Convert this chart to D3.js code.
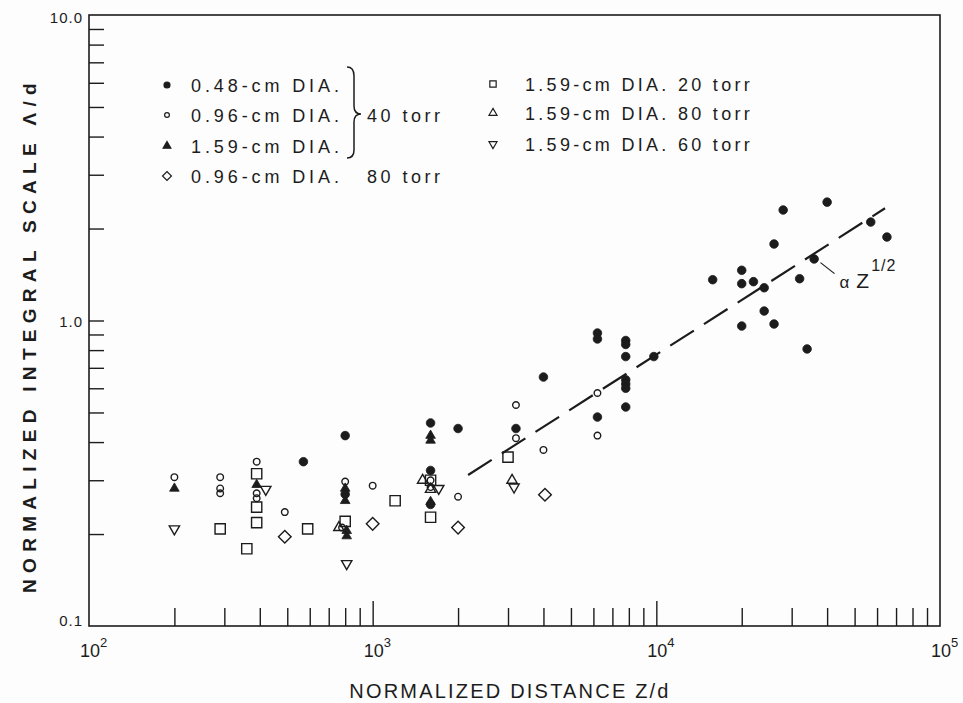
<!DOCTYPE html>
<html>
<head>
<meta charset="utf-8">
<script src="https://cdn.jsdelivr.net/npm/d3@7"></script>
<style>
body { margin: 0; background: #fdfdfd; }
svg { display: block; font-family: "Liberation Sans", Arial, sans-serif; }
</style>
</head>
<body>
<svg id="chart" width="963" height="703"></svg>
<script>
// values, [Z/d, Lambda/d]
var dia048 = [[570,0.345],[800,0.42],[800,0.27],[1600,0.462],[1600,0.323],[1600,0.25],
  [2000,0.443],[3200,0.443],[4000,0.653],[6200,0.91],[6200,0.87],[6200,0.483],
  [7800,0.86],[7800,0.835],[7800,0.762],[7800,0.64],[7800,0.62],[7800,0.60],[7800,0.521],
  [9800,0.762],[15800,1.36],[20000,1.46],[20000,1.32],[22000,1.34],[24000,1.28],
  [24000,1.074],[20000,0.959],[26000,0.974],[26000,1.78],[28000,2.30],[32000,1.37],
  [34000,0.807],[36000,1.59],[40000,2.44],[57000,2.10],[65000,1.876]];
var dia096 = [[200,0.307],[290,0.307],[290,0.282],[290,0.272],[390,0.345],[390,0.272],
  [390,0.262],[490,0.236],[800,0.297],[800,0.27],[780,0.21],[1000,0.288],[1600,0.30],
  [1600,0.285],[2000,0.265],[3200,0.529],[3200,0.412],[4000,0.377],[6200,0.579],[6200,0.42]];
var dia159 = [[200,0.282],[390,0.29],[800,0.282],[800,0.257],[810,0.205],[810,0.197],
  [1600,0.42],[1600,0.405],[1600,0.255]];
var dia096at80 = [[490,0.196],[1000,0.216],[2000,0.21],[4050,0.269]];
var dia159at20 = [[290,0.208],[360,0.179],[390,0.315],[390,0.245],[390,0.218],[590,0.208],
  [800,0.22],[1200,0.257],[1600,0.30],[1600,0.227],[3000,0.357]];
var dia159at80 = [[760,0.21],[1500,0.30],[3100,0.30],[1600,0.28]];
var dia159at60 = [[200,0.208],[420,0.28],[810,0.16],[1710,0.282],[3150,0.285]];

var fitLine = [[2170,0.312],[64000,2.33]];
var xMinor = [200,300,400,500,600,700,800,900,2000,3000,4000,5000,6000,7000,8000,9000,
  20000,30000,40000,50000,60000,70000,80000,90000];
var xMajor = [1000,10000];
var xLabels = [[100,"2"],[1000,"3"],[10000,"4"],[100000,"5"]];
var yTicks = [0.2,0.3,0.4,0.5,0.6,0.7,0.8,0.9,1,2,3,4,5,6,7,8,9];
var yLabels = [[10,"10.0",8],[1,"1.0",6],[0.1,"0.1",0]];

var leftLegend = ["0.48-cm DIA.","0.96-cm DIA.","1.59-cm DIA.","0.96-cm DIA."];
var rightLegend = ["1.59-cm DIA. 20 torr","1.59-cm DIA. 80 torr","1.59-cm DIA. 60 torr"];

var ink = "#1c1c1c";
var svg = d3.select("#chart");
var x = d3.scaleLog().domain([1e2, 1e5]).range([89, 940]);
var y = d3.scaleLog().domain([0.1, 10]).range([626, 15]);

//frame
svg.append("rect").attr("x", 89).attr("y", 15).attr("width", 851).attr("height", 611)
  .attr("fill", "none").attr("stroke", ink).attr("stroke-width", 1.6);

//inward ticks
function ticks(g) {
  g.select(".domain").remove();
  g.selectAll("line").attr("stroke", ink).attr("stroke-width", 1.4);
}
svg.append("g").attr("transform", "translate(0,626)")
  .call(d3.axisBottom(x).tickValues(xMinor).tickSize(-18).tickFormat("")).call(ticks);
svg.append("g").attr("transform", "translate(0,626)")
  .call(d3.axisBottom(x).tickValues(xMajor).tickSize(-25).tickFormat("")).call(ticks);
svg.append("g").attr("transform", "translate(89,0)")
  .call(d3.axisLeft(y).tickValues(yTicks).tickSize(-15).tickFormat("")).call(ticks);

//tick labels
var xl = svg.selectAll(".xl").data(xLabels).enter().append("text")
  .attr("x", function(d) { return x(d[0]) - 9; }).attr("y", 657)
  .attr("fill", ink).attr("font-size", 18);
xl.append("tspan").text("10");
xl.append("tspan").attr("dy", -10).attr("font-size", 13).text(function(d) { return d[1]; });

svg.selectAll(".yl").data(yLabels).enter().append("text")
  .attr("x", 83).attr("y", function(d) { return y(d[0]) + d[2]; })
  .attr("text-anchor", "end").attr("fill", ink).attr("font-size", 15)
  .attr("letter-spacing", 1).text(function(d) { return d[1]; });

//axis titles
svg.append("text").attr("x", 510).attr("y", 698).attr("text-anchor", "middle")
  .attr("font-size", 20).attr("letter-spacing", 2.2).attr("fill", ink)
  .text("NORMALIZED DISTANCE Z/d");
svg.append("text").attr("transform", "translate(36,335) rotate(-90)")
  .attr("text-anchor", "middle").attr("font-size", 19).attr("font-weight", "bold")
  .attr("letter-spacing", 6.3).attr("fill", ink)
  .text("NORMALIZED INTEGRAL SCALE \u039B/d");

//fit line
var line = d3.line().x(function(d) { return x(d[0]); }).y(function(d) { return y(d[1]); });
svg.append("path").datum(fitLine).attr("d", line).attr("fill", "none")
  .attr("stroke", ink).attr("stroke-width", 2.2).attr("stroke-dasharray", "28,12");

//markers
var sym = d3.symbol();
function markers(data, type, size, filled, rot) {
  svg.append("g").selectAll("path").data(data).enter().append("path")
    .attr("d", sym.type(type).size(size)())
    .attr("transform", function(d) {
      return "translate(" + x(d[0]) + "," + y(d[1]) + ") rotate(" + rot + ")";
    })
    .attr("fill", filled ? ink : "none")
    .attr("stroke", ink).attr("stroke-width", filled ? 0.8 : 1.4);
}
markers(dia159at20, d3.symbolSquare, 105, false, 0);
markers(dia096at80, d3.symbolSquare, 80, false, 45);
markers(dia159at80, d3.symbolTriangle, 46, false, 0);
markers(dia159at60, d3.symbolTriangle, 46, false, 180);
markers(dia096, d3.symbolCircle, 34, false, 0);
markers(dia159, d3.symbolTriangle, 40, true, 0);
markers(dia048, d3.symbolCircle, 58, true, 0);

//annotation
var ax = x(37000), ay = y(1.57);
svg.append("line").attr("x1", ax + 3).attr("y1", ay + 2).attr("x2", ax + 17).attr("y2", ay + 13)
  .attr("stroke", ink).attr("stroke-width", 1.2);
var an = svg.append("text").attr("x", ax + 22).attr("y", ay + 27).attr("fill", ink)
  .attr("font-size", 21);
an.append("tspan").attr("font-size", 17).text("\u03B1");
an.append("tspan").attr("dx", 7).text("Z");
an.append("tspan").attr("dy", -17).attr("dx", 2).attr("font-size", 16)
  .attr("letter-spacing", 1).text("1/2");

//legend
var leftSym = [[d3.symbolCircle, 28, true, 0], [d3.symbolCircle, 18, false, 0],
  [d3.symbolTriangle, 26, true, 0], [d3.symbolSquare, 40, false, 45]];
var rightSym = [[d3.symbolSquare, 40, false, 0], [d3.symbolTriangle, 28, false, 0],
  [d3.symbolTriangle, 28, false, 180]];
var rowY = [85, 115, 146, 176];
var rowY2 = [84, 113, 144];

leftLegend.forEach(function(t, i) {
  var s = leftSym[i];
  svg.append("path").attr("d", d3.symbol().type(s[0]).size(s[1])())
    .attr("transform", "translate(167," + rowY[i] + ") rotate(" + s[3] + ")")
    .attr("fill", s[2] ? ink : "none").attr("stroke", ink).attr("stroke-width", 1.2);
  svg.append("text").attr("x", 191).attr("y", rowY[i] + 7).attr("font-size", 18)
    .attr("letter-spacing", 3.9).attr("fill", ink).text(t);
});
rightLegend.forEach(function(t, i) {
  var s = rightSym[i];
  svg.append("path").attr("d", d3.symbol().type(s[0]).size(s[1])())
    .attr("transform", "translate(493," + rowY2[i] + ") rotate(" + s[3] + ")")
    .attr("fill", "none").attr("stroke", ink).attr("stroke-width", 1.2);
  svg.append("text").attr("x", 525).attr("y", rowY2[i] + 7).attr("font-size", 18)
    .attr("letter-spacing", 3.3).attr("fill", ink).text(t);
});
svg.append("path").attr("d", "M347,67 Q354,67 354,76 L354,106 Q354,114 361,114 Q354,114 354,122 L354,150 Q354,158 347,158")
  .attr("fill", "none").attr("stroke", ink).attr("stroke-width", 1.5);
svg.append("text").attr("x", 367).attr("y", rowY[1] + 7).attr("font-size", 18)
  .attr("letter-spacing", 3.5).attr("fill", ink).text("40 torr");
svg.append("text").attr("x", 367).attr("y", rowY[3] + 7).attr("font-size", 18)
  .attr("letter-spacing", 3.5).attr("fill", ink).text("80 torr");
</script>
</body>
</html>
